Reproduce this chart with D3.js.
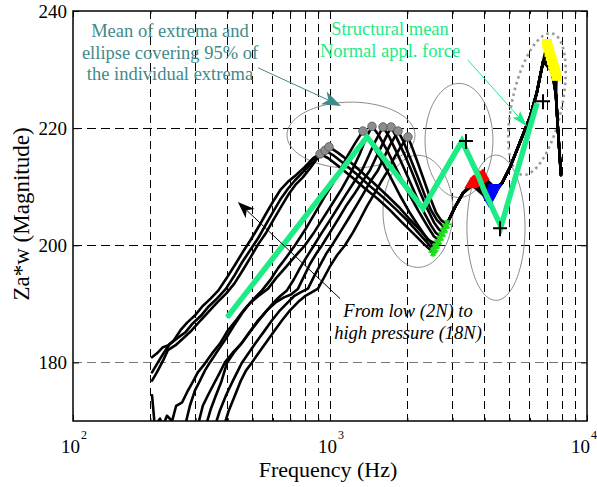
<!DOCTYPE html>
<html>
<head>
<meta charset="utf-8">
<script src="https://cdn.jsdelivr.net/npm/d3@7"></script>
<style>
  body { margin: 0; background: #fff; }
  svg { display: block; font-family: "Liberation Serif", "Times New Roman", serif; }
</style>
</head>
<body>
<svg id="canvas"></svg>
<script>
const width = 597
const height = 487

// axes
const yTicks = [180, 200, 220, 240]
const xMajor = [100, 1000, 10000]
const xExp = ["2", "3", "4"]
const xMinor = [200, 300, 400, 500, 600, 700, 800, 900, 2000, 3000, 4000, 5000, 6000, 7000, 8000, 9000]
const yGrid = [180, 200, 220]

// one curve per applied force, 18N (top left) ... 2N (bottom right)
// rising part up to the first peak (frequency Hz, Za*w)
const rise = [
  [[203,180.9],[214,181.7],[224,182.6],[234,182.9],[247,183.8],[262,185.5],[278,186.8],[298,188.0],[319,189.6],[343,190.9],[368,192.3],[396,194.4],[426,196.6],[457,198.8],[491,200.9],[528,203.2],[567,205.6],[605,207.7],[640,209.4],[684,210.8],[738,212.0],[795,213.3],[860,214.9]],
  [[203,178.3],[214,180.0],[226,181.7],[238,183.1],[254,184.1],[273,185.1],[293,186.7],[315,188.0],[338,189.6],[363,190.9],[394,192.6],[423,194.7],[455,197.1],[488,199.1],[525,201.2],[564,203.6],[606,206.0],[645,208.0],[687,209.7],[731,211.1],[785,212.5],[844,214.0],[898,215.2]],
  [[203,176.9],[212,178.3],[224,180.3],[234,182.1],[250,182.9],[268,184.1],[290,185.5],[314,187.2],[338,188.7],[365,190.3],[395,191.8],[425,193.5],[457,195.7],[490,197.9],[526,200.2],[565,202.2],[607,204.6],[650,206.8],[690,208.7],[733,210.3],[784,211.6],[838,213.2],[895,214.9],[945,216.1]],
  [[203,174.4],[208,169.2],[218,170.4],[224,169.2],[232,170.9],[243,170.0],[252,172.6],[266,173.2],[280,175.2],[290,176.4],[306,178.3],[326,179.8],[347,181.5],[373,183.2],[401,185.5],[431,187.2],[467,189.2],[506,190.9],[544,192.3],[584,194.0],[628,196.1],[680,198.1],[731,200.0],[799,202.6],[874,205.5],[956,208.4],[1027,210.6],[1094,212.8],[1175,215.4],[1251,217.4]],
  [[273,169.2],[285,172.6],[298,175.2],[312,176.9],[326,178.6],[341,180.0],[367,182.1],[394,184.1],[423,186.3],[455,188.4],[488,190.1],[525,191.3],[574,192.6],[617,194.4],[668,196.1],[731,198.1],[799,200.0],[867,202.2],[939,204.6],[1018,207.0],[1113,209.7],[1218,212.8],[1309,215.7],[1381,218.3]],
  [[306,169.2],[320,172.6],[335,174.4],[351,176.1],[373,178.3],[390,180.0],[419,181.7],[450,183.1],[484,185.0],[520,186.8],[559,188.5],[600,190.1],[639,191.3],[680,192.3],[724,194.2],[764,196.1],[814,198.1],[867,200.0],[931,202.2],[1000,204.3],[1075,206.5],[1155,208.7],[1241,210.8],[1332,212.8],[1405,215.0],[1483,217.3],[1537,218.6]],
  [[329,169.2],[344,172.1],[360,174.4],[377,176.6],[398,180.0],[423,181.7],[455,183.4],[488,185.3],[525,187.2],[569,188.9],[617,190.3],[662,191.1],[705,191.6],[751,192.6],[792,194.7],[836,196.8],[882,198.5],[931,200.0],[1000,202.2],[1074,204.4],[1154,206.7],[1241,208.7],[1332,210.8],[1431,212.8],[1510,215.0],[1594,217.1],[1667,218.8]],
  [[357,169.2],[373,171.8],[394,174.4],[416,176.6],[435,178.3],[455,180.0],[484,181.7],[515,183.4],[554,185.3],[595,187.2],[639,188.9],[687,190.3],[724,191.3],[771,192.0],[821,192.6],[867,194.7],[915,196.6],[965,198.5],[1018,200.0],[1094,202.2],[1175,204.4],[1263,206.7],[1344,208.7],[1431,210.8],[1537,212.8],[1623,215.0],[1712,217.1],[1775,218.3]],
  [[387,169.2],[404,171.8],[427,174.4],[450,176.9],[471,178.6],[497,180.0],[529,181.7],[564,183.4],[605,185.3],[651,187.2],[699,188.9],[751,190.3],[799,191.3],[851,192.0],[898,192.6],[948,194.5],[1000,196.4],[1065,198.3],[1144,200.0],[1229,202.2],[1309,204.4],[1393,206.7],[1483,208.7],[1579,210.8],[1682,212.8],[1775,214.9],[1872,216.6],[1940,217.6]]
]

// falling part from the first peak down to the minimum
const fall = [
  [[982,214.9],[1094,213.3],[1218,211.6],[1368,209.7],[1537,207.9],[1712,206.0],[1906,203.9],[2122,201.9],[2321,200.2]],
  [[1027,215.4],[1144,213.8],[1274,212.1],[1431,210.1],[1608,208.2],[1790,206.3],[1993,204.3],[2199,202.2],[2384,200.5]],
  [[1065,215.9],[1186,214.4],[1320,212.6],[1483,210.6],[1667,208.5],[1856,206.5],[2047,204.4],[2259,202.4],[2427,200.9]],
  [[1431,217.9],[1565,214.9],[1712,211.8],[1872,208.5],[2047,205.5],[2239,202.9],[2406,200.9]],
  [[1537,219.0],[1682,215.9],[1839,212.5],[2011,209.1],[2199,206.0],[2384,203.4],[2539,201.5]],
  [[1697,218.6],[1839,215.4],[1993,212.0],[2160,208.5],[2321,205.6],[2472,203.4],[2584,202.1]],
  [[1806,218.6],[1940,215.7],[2084,212.5],[2239,209.1],[2406,206.0],[2539,203.9],[2655,202.7]],
  [[1923,217.9],[2047,215.0],[2180,212.0],[2321,208.9],[2472,206.0],[2608,204.3]],
  [[2084,216.8],[2199,214.0],[2321,211.1],[2449,208.2],[2584,205.6],[2703,204.3]]
]

// extrema of each curve
const peaks = [[915,215.6],[956,216.2],[991,216.8],[1344,219.5],[1457,220.3],[1608,220.2],[1728,220.2],[1839,219.5],[2011,218.5]]
const troughs = [[2516,198.8],[2539,199.1],[2562,199.5],[2608,200.2],[2655,200.9],[2703,201.5],[2752,202.2],[2802,202.9],[2852,203.6]]
const redPts = [[3540,210.4],[3585,210.6],[3630,210.8],[3680,210.9],[3730,211.1],[3780,211.3],[3830,211.5],[3890,211.6],[3940,211.8]]
const bluePts = [[4160,207.7],[4190,208.0],[4220,208.3],[4250,208.5],[4270,208.8],[4300,209.0],[4330,209.3],[4360,209.6],[4390,209.8]]
const yellowPts = [[6989,234.4],[7065,233.7],[7140,233.0],[7220,232.3],[7295,231.6],[7373,230.9],[7450,230.3],[7530,229.6],[7615,228.9]]

// shared upper part where all curves overlap
const bundleA = [[3064,206.5],[3292,208.9]]
const bundleB = [[4670,210.6],[5016,213.3],[5486,217.6],[6000,221.9],[6389,226.2],[6743,231.3]]
const bundleEnd = [[7573,225.6],[7711,219.7],[7919,212.0]]

// structural mean
const meanF = [398, 1393, 2300, 3262, 3800, 3975, 4628, 6389]
const meanV = [187.7, 218.5, 206.3, 217.8, 211.6, 209.4, 203.2, 224.3]
const meanMarks = [[3381,217.8],[4587,202.9],[6743,224.6]]

// 95% ellipses: centre, half widths (decades of Hz, Za*w)
const ellCenter = [[1207,218.8],[2199,205.8],[3176,217.9],[4424,203.0]]
const ellRx = [0.249, 0.136, 0.132, 0.113]
const ellRy = [5.64, 9.57, 9.74, 12.4]
const dotEllCenter = [6389, 224.1]
const dotEllMajor = [0.0588, 12.07]
const dotEllMinor = [0.095, -0.9]

const tealArrow = [[525,230.3],[1104,223.8]]
const greenArrow = [[3443,231.6],[5842,220.3]]
const blackArrow = [[1094,190.9],[438,207.4]]

const xScale = d3.scaleLog().domain([100, 10000]).range([73, 587])
const yScale = d3.scaleLinear().domain([170, 240]).range([421, 11])

const green = "#1ceb86"
const teal = "#3f8a8a"

const canvas = d3.select("#canvas").attr("width", width).attr("height", height)

canvas.append("defs").append("clipPath").attr("id", "clip")
  .append("rect").attr("x", 73).attr("y", 11).attr("width", 514).attr("height", 410)

// grid
const grid = canvas.append("g").attr("shape-rendering", "crispEdges")
grid.selectAll(".vg").data(xMinor.concat([1000])).enter().append("line")
  .attr("x1", d => xScale(d)).attr("x2", d => xScale(d))
  .attr("y1", 11).attr("y2", 421)
  .attr("stroke", "#000").attr("stroke-dasharray", "8,5")
grid.selectAll(".hg").data(yGrid).enter().append("line")
  .attr("x1", 73).attr("x2", 587)
  .attr("y1", d => yScale(d)).attr("y2", d => yScale(d))
  .attr("stroke", d => d === 180 ? "#777" : "#000").attr("stroke-dasharray", "9,5")

// ticks, inward on all four sides
const tickSides = [
  [d3.axisBottom(xScale).tickValues(xMajor).tickSize(-6), "translate(0,421)"],
  [d3.axisBottom(xScale).tickValues(xMinor).tickSize(-3), "translate(0,421)"],
  [d3.axisTop(xScale).tickValues(xMajor).tickSize(-6), "translate(0,11)"],
  [d3.axisTop(xScale).tickValues(xMinor).tickSize(-3), "translate(0,11)"],
  [d3.axisLeft(yScale).tickValues(yTicks).tickSize(-6), "translate(73,0)"],
  [d3.axisRight(yScale).tickValues(yTicks).tickSize(-6), "translate(587,0)"]
]
tickSides.forEach(([ax, tr]) => {
  canvas.append("g").attr("transform", tr)
    .call(ax.tickFormat(""))
    .call(g => g.select(".domain").remove())
    .call(g => g.selectAll("line").attr("stroke", "#000"))
})

// ellipses
const plot = canvas.append("g").attr("clip-path", "url(#clip)")
const angles = d3.range(0, 2 * Math.PI, Math.PI / 60)
const ellLine = d3.line().curve(d3.curveLinearClosed)
ellCenter.forEach((c, i) => {
  const pts = angles.map(t => [
    xScale(Math.pow(10, Math.log10(c[0]) + ellRx[i] * Math.cos(t))),
    yScale(c[1] + ellRy[i] * Math.sin(t))
  ])
  plot.append("path").attr("d", ellLine(pts))
    .attr("fill", "none").attr("stroke", "#8a8a8a").attr("stroke-width", 1)
})
const dotPts = angles.map(t => [
  xScale(Math.pow(10, Math.log10(dotEllCenter[0]) + dotEllMajor[0] * Math.cos(t) + dotEllMinor[0] * Math.sin(t))),
  yScale(dotEllCenter[1] + dotEllMajor[1] * Math.cos(t) + dotEllMinor[1] * Math.sin(t))
])
plot.append("path").attr("d", ellLine(dotPts))
  .attr("fill", "none").attr("stroke", "#999").attr("stroke-width", 2.6)
  .attr("stroke-dasharray", "2.5,3.5")

// curves
const line = d3.line().x(d => xScale(d[0])).y(d => yScale(d[1]))
const curves = rise.map((r, i) => [].concat(r, [peaks[i]], fall[i], [troughs[i]], bundleA,
  [redPts[i]], [bluePts[i]], bundleB, [yellowPts[i]], bundleEnd))
plot.selectAll(".curve").data(curves).enter().append("path")
  .attr("class", "curve")
  .attr("d", line)
  .attr("fill", "none").attr("stroke", "#000").attr("stroke-width", 2.6)
  .attr("stroke-linejoin", "round").attr("stroke-linecap", "round")

// extrema markers
plot.selectAll(".star").data(troughs).enter().append("path")
  .attr("transform", d => `translate(${xScale(d[0])},${yScale(d[1])})`)
  .attr("d", "M-4.5,0L4.5,0M-2.2,-3.9L2.2,3.9M-2.2,3.9L2.2,-3.9M0,-4.5L0,4.5")
  .attr("stroke", "#1fdc1f").attr("stroke-width", 1.6)
plot.selectAll(".pk").data(peaks).enter().append("circle")
  .attr("cx", d => xScale(d[0])).attr("cy", d => yScale(d[1])).attr("r", 4.3)
  .attr("fill", "#8c8c8c").attr("stroke", "#555").attr("stroke-width", 0.8)
const tri = d3.symbol(d3.symbolTriangle, 80)
plot.selectAll(".red").data(redPts).enter().append("path")
  .attr("transform", d => `translate(${xScale(d[0])},${yScale(d[1])})`)
  .attr("d", tri).attr("fill", "#ff0000")
plot.selectAll(".blue").data(bluePts).enter().append("path")
  .attr("transform", d => `translate(${xScale(d[0])},${yScale(d[1])}) rotate(180)`)
  .attr("d", tri).attr("fill", "#0000ff")
plot.selectAll(".yel").data(yellowPts).enter().append("path")
  .attr("transform", d => `translate(${xScale(d[0])},${yScale(d[1])})`)
  .attr("d", d3.symbol(d3.symbolSquare, 95)).attr("fill", "#ffff00")

// structural mean
plot.append("path")
  .attr("d", d3.line().x((d, i) => xScale(meanF[i])).y((d, i) => yScale(meanV[i]))(meanF))
  .attr("fill", "none").attr("stroke", green).attr("stroke-width", 5.5)
  .attr("stroke-linejoin", "miter")
plot.selectAll(".plus").data(meanMarks).enter().append("path")
  .attr("transform", d => `translate(${xScale(d[0])},${yScale(d[1])})`)
  .attr("d", "M-7,0L7,0M0,-7L0,8")
  .attr("stroke", "#000").attr("stroke-width", 2)

// frame
canvas.append("rect").attr("x", 73).attr("y", 11).attr("width", 514).attr("height", 410)
  .attr("fill", "none").attr("stroke", "#000").attr("stroke-width", 1.5)

// tick labels
canvas.selectAll(".yl").data(yTicks).enter().append("text")
  .attr("x", 67).attr("y", d => yScale(d)).attr("dy", "0.35em")
  .attr("text-anchor", "end").attr("font-size", 19).text(d => d)
const xl = canvas.selectAll(".xl").data(xMajor).enter().append("text")
  .attr("x", (d, i) => xScale(d) + (i === 2 ? -3 : 1)).attr("y", 453)
  .attr("text-anchor", "middle").attr("font-size", 19)
xl.append("tspan").text("10")
xl.append("tspan").attr("dx", 1).attr("dy", -14).attr("font-size", 12).text((d, i) => xExp[i])

// axis titles
canvas.append("text").attr("x", 328).attr("y", 477).attr("text-anchor", "middle")
  .attr("font-size", 22).text("Frequency (Hz)")
canvas.append("text").attr("transform", "translate(29,214) rotate(-90)")
  .attr("text-anchor", "middle").attr("font-size", 23).text("Za*w (Magnitude)")

// annotations
const arrow = (pts, color, len, half, notch) => {
  const x0 = xScale(pts[0][0]), y0 = yScale(pts[0][1])
  const x1 = xScale(pts[1][0]), y1 = yScale(pts[1][1])
  const d = Math.hypot(x1 - x0, y1 - y0), ux = (x1 - x0) / d, uy = (y1 - y0) / d
  const bx = x1 - ux * len, by = y1 - uy * len
  canvas.append("line").attr("x1", x0).attr("y1", y0)
    .attr("x2", x1 - ux * (len - notch)).attr("y2", y1 - uy * (len - notch))
    .attr("stroke", color).attr("stroke-width", 1)
  canvas.append("path")
    .attr("d", `M${x1},${y1}L${bx - uy * half},${by + ux * half}L${x1 - ux * (len - notch)},${y1 - uy * (len - notch)}L${bx + uy * half},${by - ux * half}Z`)
    .attr("fill", color)
}
arrow(tealArrow, teal, 19, 7, 5)
arrow(greenArrow, green, 16, 5, 3)
arrow(blackArrow, "#000", 17, 6.5, 5)

const addLines = (lines, cx, y0, color, italic) => {
  lines.forEach((t, i) => {
    canvas.append("text").attr("x", cx).attr("y", y0 + i * 21.5)
      .attr("text-anchor", "middle").attr("font-size", 18.5)
      .attr("font-style", italic ? "italic" : "normal")
      .attr("fill", color).text(t)
  })
}
addLines(["Mean of extrema and", "ellipse covering 95% of", "the individual extrema"], 170, 37, teal, false)
addLines(["Structural mean", "Normal appl. force"], 390, 35, green, false)
addLines(["From low (2N) to", "high pressure (18N)"], 408, 317, "#000", true)
</script>
</body>
</html>
